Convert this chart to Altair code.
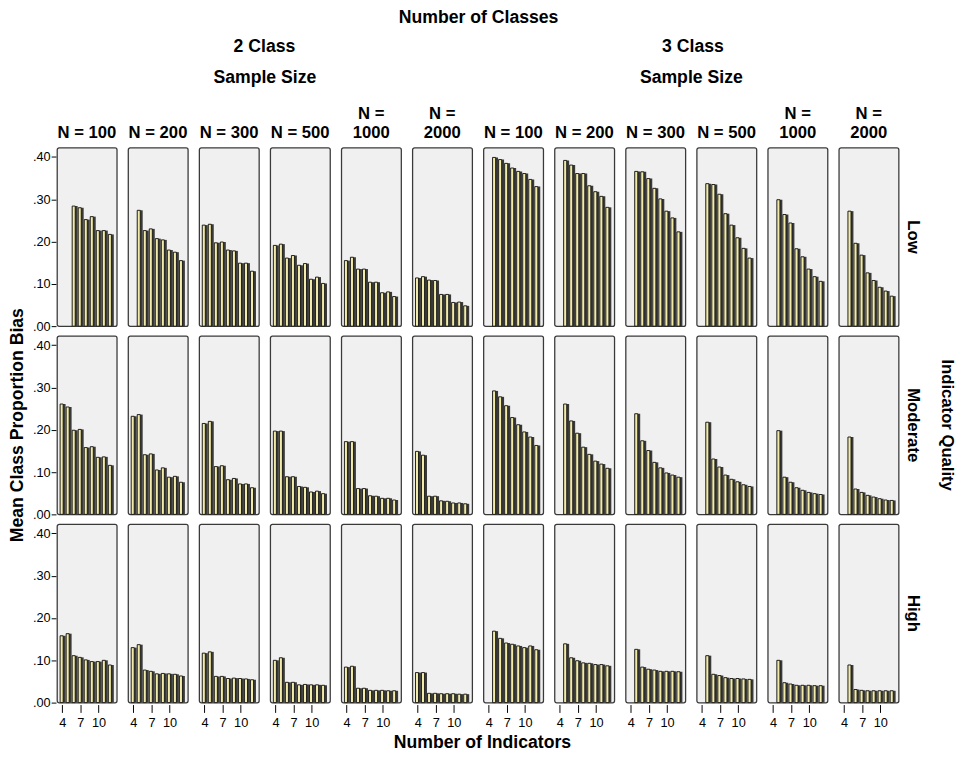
import altair as alt
import pandas as pd

FONT = "Liberation Sans"

CLASSES = ["2 Class", "3 Class"]
QUALITIES = ["Low", "Moderate", "High"]
SAMPLE_SIZES = [100, 200, 300, 500, 1000, 2000]
INDICATORS = [4, 5, 6, 7, 8, 9, 10, 11, 12]
X_TICKS = [4, 7, 10]
Y_TICKS = [0.0, 0.1, 0.2, 0.3, 0.4]

# first indicator with a bar, per sample size
C2_LOW_START = [6, 5, 4, 4, 4, 4]
C2_MOD_START = [4, 4, 4, 4, 4, 4]
C2_HIGH_START = [4, 4, 4, 4, 4, 4]
C3_LOW_START = [5, 5, 5, 5, 5, 5]
C3_MOD_START = [5, 5, 5, 5, 5, 5]
C3_HIGH_START = [5, 5, 5, 5, 5, 5]

# mean class proportion bias, one list per sample size
C2_LOW = [
    [0.284, 0.280, 0.252, 0.259, 0.226, 0.226, 0.217],
    [0.274, 0.226, 0.230, 0.207, 0.204, 0.180, 0.175, 0.155],
    [0.239, 0.241, 0.197, 0.199, 0.180, 0.178, 0.149, 0.149, 0.130],
    [0.191, 0.194, 0.161, 0.167, 0.144, 0.148, 0.111, 0.116, 0.101],
    [0.155, 0.163, 0.135, 0.135, 0.104, 0.104, 0.079, 0.081, 0.070],
    [0.114, 0.117, 0.109, 0.108, 0.075, 0.075, 0.056, 0.057, 0.048],
]
C2_MOD = [
    [0.261, 0.254, 0.199, 0.201, 0.158, 0.160, 0.135, 0.136, 0.116],
    [0.232, 0.236, 0.141, 0.143, 0.105, 0.110, 0.088, 0.090, 0.076],
    [0.215, 0.220, 0.113, 0.115, 0.082, 0.085, 0.072, 0.072, 0.063],
    [0.197, 0.197, 0.089, 0.089, 0.066, 0.064, 0.053, 0.055, 0.049],
    [0.172, 0.172, 0.061, 0.061, 0.044, 0.043, 0.038, 0.038, 0.034],
    [0.149, 0.140, 0.043, 0.043, 0.032, 0.031, 0.027, 0.027, 0.025],
]
C2_HIGH = [
    [0.158, 0.163, 0.111, 0.107, 0.101, 0.097, 0.097, 0.100, 0.089],
    [0.130, 0.137, 0.077, 0.074, 0.068, 0.069, 0.068, 0.067, 0.063],
    [0.117, 0.120, 0.062, 0.062, 0.057, 0.058, 0.057, 0.056, 0.054],
    [0.100, 0.106, 0.048, 0.048, 0.042, 0.043, 0.042, 0.042, 0.041],
    [0.084, 0.086, 0.034, 0.034, 0.029, 0.029, 0.029, 0.028, 0.028],
    [0.071, 0.071, 0.022, 0.022, 0.021, 0.021, 0.021, 0.020, 0.020],
]
C3_LOW = [
    [0.399, 0.394, 0.385, 0.374, 0.366, 0.361, 0.347, 0.330],
    [0.392, 0.381, 0.361, 0.361, 0.332, 0.318, 0.307, 0.281],
    [0.366, 0.365, 0.349, 0.326, 0.301, 0.272, 0.256, 0.223],
    [0.337, 0.335, 0.312, 0.266, 0.239, 0.209, 0.184, 0.161],
    [0.299, 0.264, 0.244, 0.183, 0.164, 0.135, 0.117, 0.106],
    [0.272, 0.196, 0.168, 0.126, 0.108, 0.092, 0.083, 0.071],
]
C3_MOD = [
    [0.292, 0.278, 0.257, 0.229, 0.212, 0.195, 0.183, 0.163],
    [0.261, 0.221, 0.192, 0.159, 0.142, 0.126, 0.119, 0.109],
    [0.238, 0.174, 0.151, 0.123, 0.110, 0.098, 0.093, 0.088],
    [0.218, 0.131, 0.112, 0.093, 0.083, 0.077, 0.070, 0.066],
    [0.198, 0.088, 0.076, 0.063, 0.057, 0.052, 0.049, 0.047],
    [0.183, 0.060, 0.052, 0.045, 0.041, 0.037, 0.034, 0.033],
]
C3_HIGH = [
    [0.169, 0.152, 0.141, 0.138, 0.134, 0.130, 0.134, 0.125],
    [0.139, 0.106, 0.099, 0.094, 0.093, 0.090, 0.090, 0.087],
    [0.126, 0.084, 0.079, 0.077, 0.074, 0.074, 0.074, 0.073],
    [0.111, 0.067, 0.064, 0.059, 0.057, 0.057, 0.056, 0.055],
    [0.100, 0.047, 0.044, 0.041, 0.041, 0.041, 0.040, 0.040],
    [0.089, 0.031, 0.029, 0.028, 0.028, 0.028, 0.028, 0.028],
]

SERIES = {
    "2 Class": {"Low": (C2_LOW, C2_LOW_START), "Moderate": (C2_MOD, C2_MOD_START),
                "High": (C2_HIGH, C2_HIGH_START)},
    "3 Class": {"Low": (C3_LOW, C3_LOW_START), "Moderate": (C3_MOD, C3_MOD_START),
                "High": (C3_HIGH, C3_HIGH_START)},
}

records = []
for cls, by_q in SERIES.items():
    for q, (vals, starts) in by_q.items():
        for n, lst, s in zip(SAMPLE_SIZES, vals, starts):
            for k, v in enumerate(lst):
                records.append({"cls": cls, "quality": q, "n": n, "ind": s + k, "bias": v})
df = pd.DataFrame(records)

BAR_FILL = "#f1eaa8"
BAR_SHADE = "#3a3a3a"
BAR_STROKE = "#111111"
HEAD = 18
LAB = 17
TICK_FONT = 13
PANEL_W = 61
PANEL_H = 182


def make_panel(cls, left, title_dx):
    sub = df[df["cls"] == cls]
    if left:
        yaxis = alt.Axis(values=Y_TICKS, labelExpr="replace(format(datum.value, '.2f'), '0.', '.')",
                         grid=False, domain=False, ticks=True, tickSize=5, tickColor="#000",
                         labelFont=FONT, labelFontSize=TICK_FONT, labelColor="#000", labelPadding=1,
                         title=None)
    else:
        yaxis = None
    x_enc = alt.X("ind:O", scale=alt.Scale(domain=INDICATORS, paddingInner=0.08, paddingOuter=0.5),
                  axis=alt.Axis(values=X_TICKS, labelAngle=0, title=None, domain=False, ticks=True,
                                tickSize=8, tickColor="#000", labelFont=FONT, labelFontSize=TICK_FONT,
                                labelColor="#000", labelPadding=4))
    y_enc = alt.Y("bias:Q", scale=alt.Scale(domain=[0, 0.422], nice=False, zero=True), axis=yaxis)
    shade = alt.Chart(sub).mark_bar(fill=BAR_SHADE, strokeWidth=0).encode(x=x_enc, y=y_enc)
    face = alt.Chart(sub).mark_bar(fill=BAR_FILL, stroke=BAR_STROKE, strokeWidth=0.9,
                                   width={"band": 0.55}, xOffset=-1.2).encode(x=x_enc, y=y_enc)
    base = alt.layer(shade, face).properties(width=PANEL_W, height=PANEL_H)

    if left:
        row = alt.Row("quality:N", sort=QUALITIES, title="Mean Class Proportion Bias",
                      header=alt.Header(labels=False, titleOrient="left", titleAngle=-90,
                                        titleFont=FONT, titleFontSize=HEAD, titleFontWeight="bold",
                                        titleColor="#000", titlePadding=-23))
    else:
        row = alt.Row("quality:N", sort=QUALITIES, title="Indicator Quality",
                      header=alt.Header(labelOrient="right", labelAngle=90, labelFont=FONT,
                                        labelFontSize=LAB, labelFontWeight="bold",
                                        labelColor="#000", labelPadding=4,
                                        titleOrient="right", titleAngle=90, titleFont=FONT,
                                        titleFontSize=LAB, titleFontWeight="bold",
                                        titleColor="#000", titlePadding=7))
    col = alt.Column("n:O", sort=SAMPLE_SIZES, title="Sample Size",
                     header=alt.Header(labelExpr="datum.value >= 1000 ? ['N =', '' + datum.value] : 'N = ' + datum.value",
                                       labelFont=FONT, labelFontSize=LAB, labelFontWeight="bold",
                                       labelColor="#000", labelPadding=-12, labelBaseline="bottom",
                                       labelLineHeight=19,
                                       titleFont=FONT, titleFontSize=HEAD, titleFontWeight="bold",
                                       titleColor="#000", titlePadding=9))
    return base.facet(row=row, column=col, spacing={"row": 7, "column": 9.5}).properties(
        title=alt.TitleParams(cls, font=FONT, fontSize=HEAD, fontWeight="bold", color="#000",
                              anchor="middle", offset=14, dx=title_dx)
    )


inner = alt.hconcat(make_panel("2 Class", True, 24), make_panel("3 Class", False, -27),
                    spacing=9).properties(
    title=alt.TitleParams("Number of Classes", font=FONT, fontSize=HEAD, fontWeight="bold",
                          color="#000", anchor="middle", offset=11, dx=-4)
)
chart = alt.vconcat(inner).properties(
    title=alt.TitleParams("Number of Indicators", orient="bottom", font=FONT, fontSize=HEAD,
                          fontWeight="bold", color="#000", anchor="middle", offset=5),
    padding={"left": 0, "top": -6, "right": 0, "bottom": 0},
    background="#ffffff",
).configure_view(fill="#f0f0f0", stroke="#3a3a3a", strokeWidth=1.3, cornerRadius=2)

chart.save("out.html", embed_options={"renderer": "svg", "actions": False})
